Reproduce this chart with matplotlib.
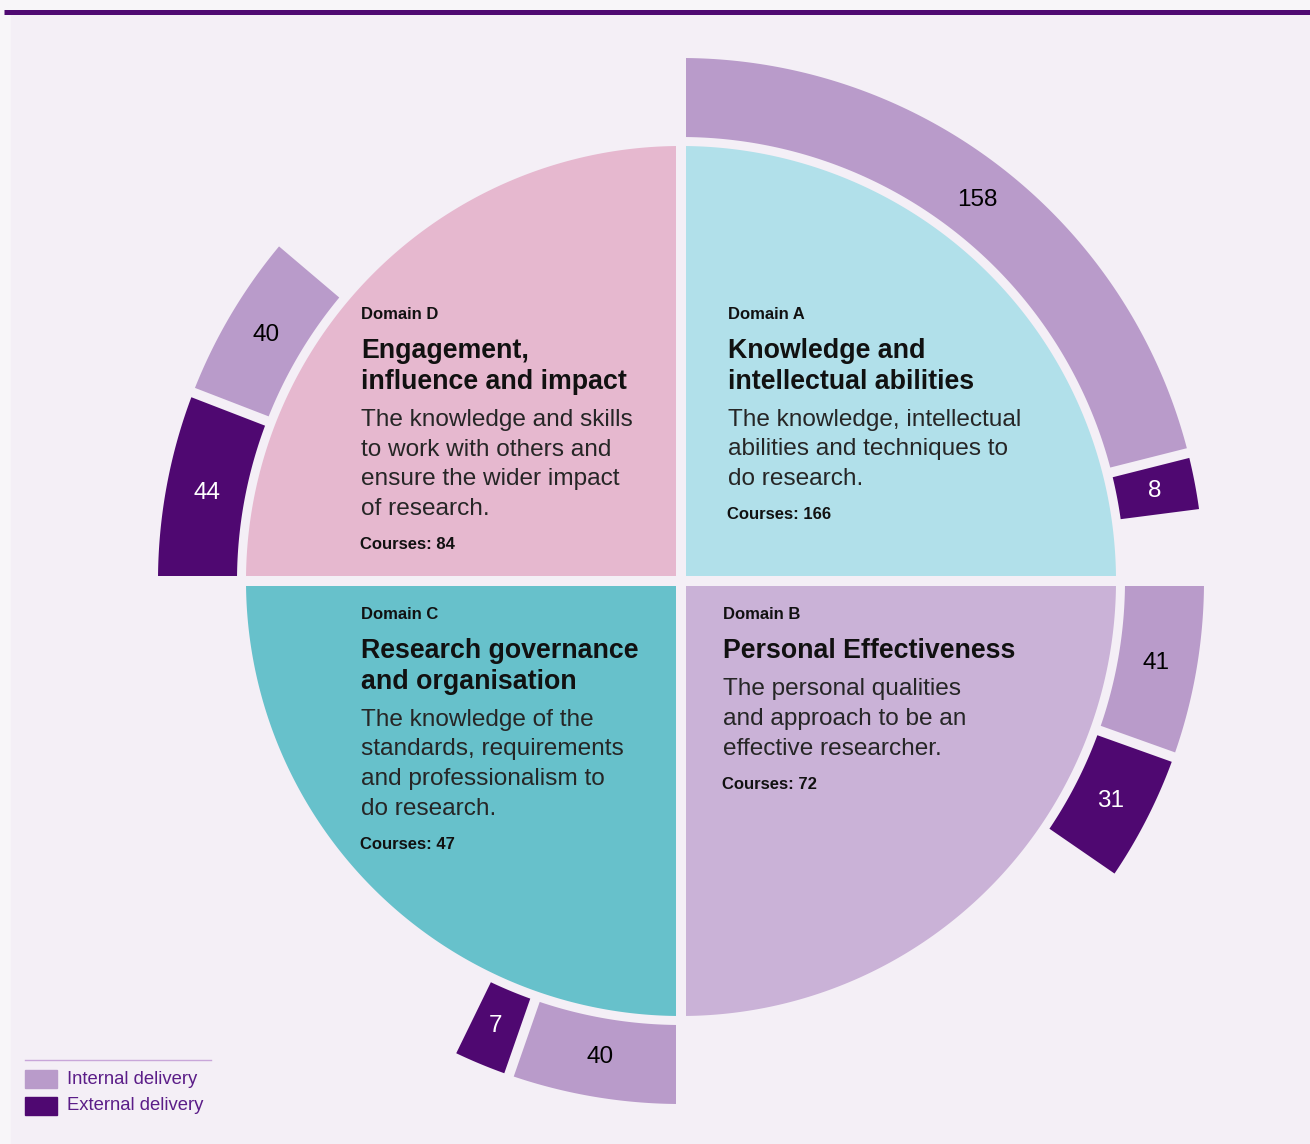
import numpy as np
import matplotlib
matplotlib.use('Agg')
import matplotlib.pyplot as plt
from matplotlib.patches import Polygon, Rectangle

plt.rcParams['font.family'] = ['Liberation Sans', 'DejaVu Sans']

# data
domain_labels = ['Domain A', 'Domain B', 'Domain C', 'Domain D']
titles = [['Knowledge and', 'intellectual abilities'],
          ['Personal Effectiveness'],
          ['Research governance', 'and organisation'],
          ['Engagement,', 'influence and impact']]
descriptions = [['The knowledge, intellectual', 'abilities and techniques to', 'do research.'],
                ['The personal qualities', 'and approach to be an', 'effective researcher.'],
                ['The knowledge of the', 'standards, requirements', 'and professionalism to', 'do research.'],
                ['The knowledge and skills', 'to work with others and', 'ensure the wider impact', 'of research.']]
courses = [166, 72, 47, 84]
internal = [158, 41, 40, 40]
external = [8, 31, 7, 44]
legend_labels = ['Internal delivery', 'External delivery']

# styles / layout
bg = '#f4eff6'
domain_colors = ['#b1e0ea', '#cab2d7', '#67c1cb', '#e6b8cf']
c_int = '#b99bca'
c_ext = '#4f0871'
start_angles = [90, 0, -90, 180]           # each domain's ring runs clockwise from here
ring_order = [('i', 'e'), ('i', 'e'), ('i', 'e'), ('e', 'i')]
text_x = [728, 723, 361, 361]
text_y = [319, 619, 619, 319]

cx, cy = 681, 581
R = 435
r_in, r_out = 444, 523
h = 5           # half gap
deg_per_course = 0.48
min_span = 6.8


def pt(r, th):
    t = np.radians(th)
    return cx + r * np.cos(t), cy - r * np.sin(t)


def ring_poly(t0, t1, ri, ro):
    # t0 > t1 (clockwise); edges offset by h from the radial lines
    do = np.degrees(np.arcsin(h / ro))
    di = np.degrees(np.arcsin(h / ri))
    a = np.linspace(t0 - do, t1 + do, 120)
    b = np.linspace(t1 + di, t0 - di, 120)
    xs = [pt(ro, t)[0] for t in a] + [pt(ri, t)[0] for t in b]
    ys = [pt(ro, t)[1] for t in a] + [pt(ri, t)[1] for t in b]
    return np.column_stack([xs, ys])


fig = plt.figure(figsize=(13.1, 11.44), dpi=100)
fig.patch.set_facecolor('#f8f6f9')
ax = fig.add_axes([0, 0, 1, 1])
ax.set_xlim(0, 1310)
ax.set_ylim(1144, 0)
ax.axis('off')

ax.add_patch(Rectangle((11, 12), 1300, 1140, color=bg, zorder=0))
ax.plot([4, 1310], [12, 12], color='#500a72', lw=3.6, solid_capstyle='butt')

# quadrants
for k in range(4):
    t0 = start_angles[k]
    t1 = t0 - 90
    d = np.degrees(np.arcsin(h / R))
    a = np.linspace(t0 - d, t1 + d, 200)
    corner = np.array(pt(h, t0)) + np.array(pt(h, t1)) - np.array([cx, cy])
    xs = [pt(R, t)[0] for t in a] + [corner[0]]
    ys = [pt(R, t)[1] for t in a] + [corner[1]]
    ax.add_patch(Polygon(np.column_stack([xs, ys]), closed=True,
                         facecolor=domain_colors[k], edgecolor='none', zorder=1))

# outer ring
vals = {'i': internal, 'e': external}
cols = {'i': c_int, 'e': c_ext}
tcols = {'i': 'black', 'e': 'white'}
for k in range(4):
    t = start_angles[k]
    for kind in ring_order[k]:
        v = vals[kind][k]
        span = max(v * deg_per_course, min_span)
        ax.add_patch(Polygon(ring_poly(t, t - span, r_in, r_out), closed=True,
                             facecolor=cols[kind], edgecolor='none', zorder=1))
        lx, ly = pt((r_in + r_out) / 2 - 1, t - span / 2)
        ax.text(lx, ly, str(v), ha='center', va='center', fontsize=17.5,
                color=tcols[kind], zorder=3)
        t -= span

# text blocks
for k in range(4):
    x, y = text_x[k], text_y[k]
    ax.text(x, y, domain_labels[k], fontsize=12, fontweight='bold',
            va='baseline', color='#111111', zorder=3)
    y += 39.3
    for line in titles[k]:
        ax.text(x, y, line, fontsize=19.3, fontweight='bold', va='baseline',
                color='#111111', zorder=3)
        y += 30.5
    y += 37 - 30.5
    for line in descriptions[k]:
        ax.text(x, y, line, fontsize=17.6, va='baseline', color='#262626', zorder=3)
        y += 29.7
    y += 34 - 29.7
    ax.text(x - 1, y, 'Courses: %d' % courses[k], fontsize=12, fontweight='bold',
            va='baseline', color='#111111', zorder=3)

# legend
ax.plot([25, 211], [1059.5, 1059.5], color='#c8a6d9', lw=1)
for j, (lab, c) in enumerate(zip(legend_labels, [c_int, c_ext])):
    y0 = 1070 + j * 27
    ax.add_patch(Rectangle((25, y0), 32, 18, color=c, zorder=2))
    ax.text(67, y0 + 9, lab, fontsize=13.3, va='center', color='#5b1d88', zorder=3)

fig.savefig('out.png', dpi=100, facecolor=fig.get_facecolor())
